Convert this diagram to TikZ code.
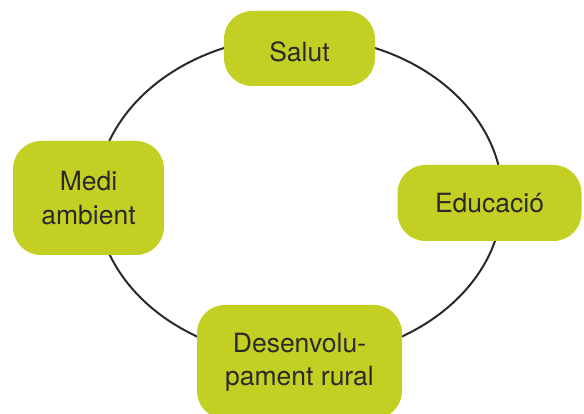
\documentclass[tikz,border=0pt]{standalone}
\usepackage{fontspec}
\setmainfont{TeX Gyre Heros}
\usepackage{xcolor}
\usepackage{tikz}

\definecolor{lima}{RGB}{195,208,35}
\definecolor{ink}{RGB}{43,41,42}

\begin{document}
\begin{tikzpicture}[x=1pt, y=-1pt,
  area/.style={rounded corners=28pt, fill=lima, text=ink, align=center,
    font=\fontsize{26.5}{33.5}\selectfont, inner sep=0pt}]
\useasboundingbox (0,0) rectangle (584,414);
\coordinate (ring) at (299.5,197.5);
\draw[ink, line width=2pt] (ring) ellipse [x radius=203, y radius=161];

\node[area, minimum width=151pt, minimum height=75pt, text height=26pt, text depth=0pt] (salut) at (299.5,48.5) {Salut};
\node[area, minimum width=151pt, minimum height=114pt] (medi) at (88.5,198) {Medi\\ambient};
\node[area, minimum width=184pt, minimum height=76pt] (educacio) at (489.5,203) {Educació};
\node[area, minimum width=205pt, minimum height=114pt] (rural) at (299.5,362) {Desenvolu-\\pament rural};
\end{tikzpicture}
\end{document}
